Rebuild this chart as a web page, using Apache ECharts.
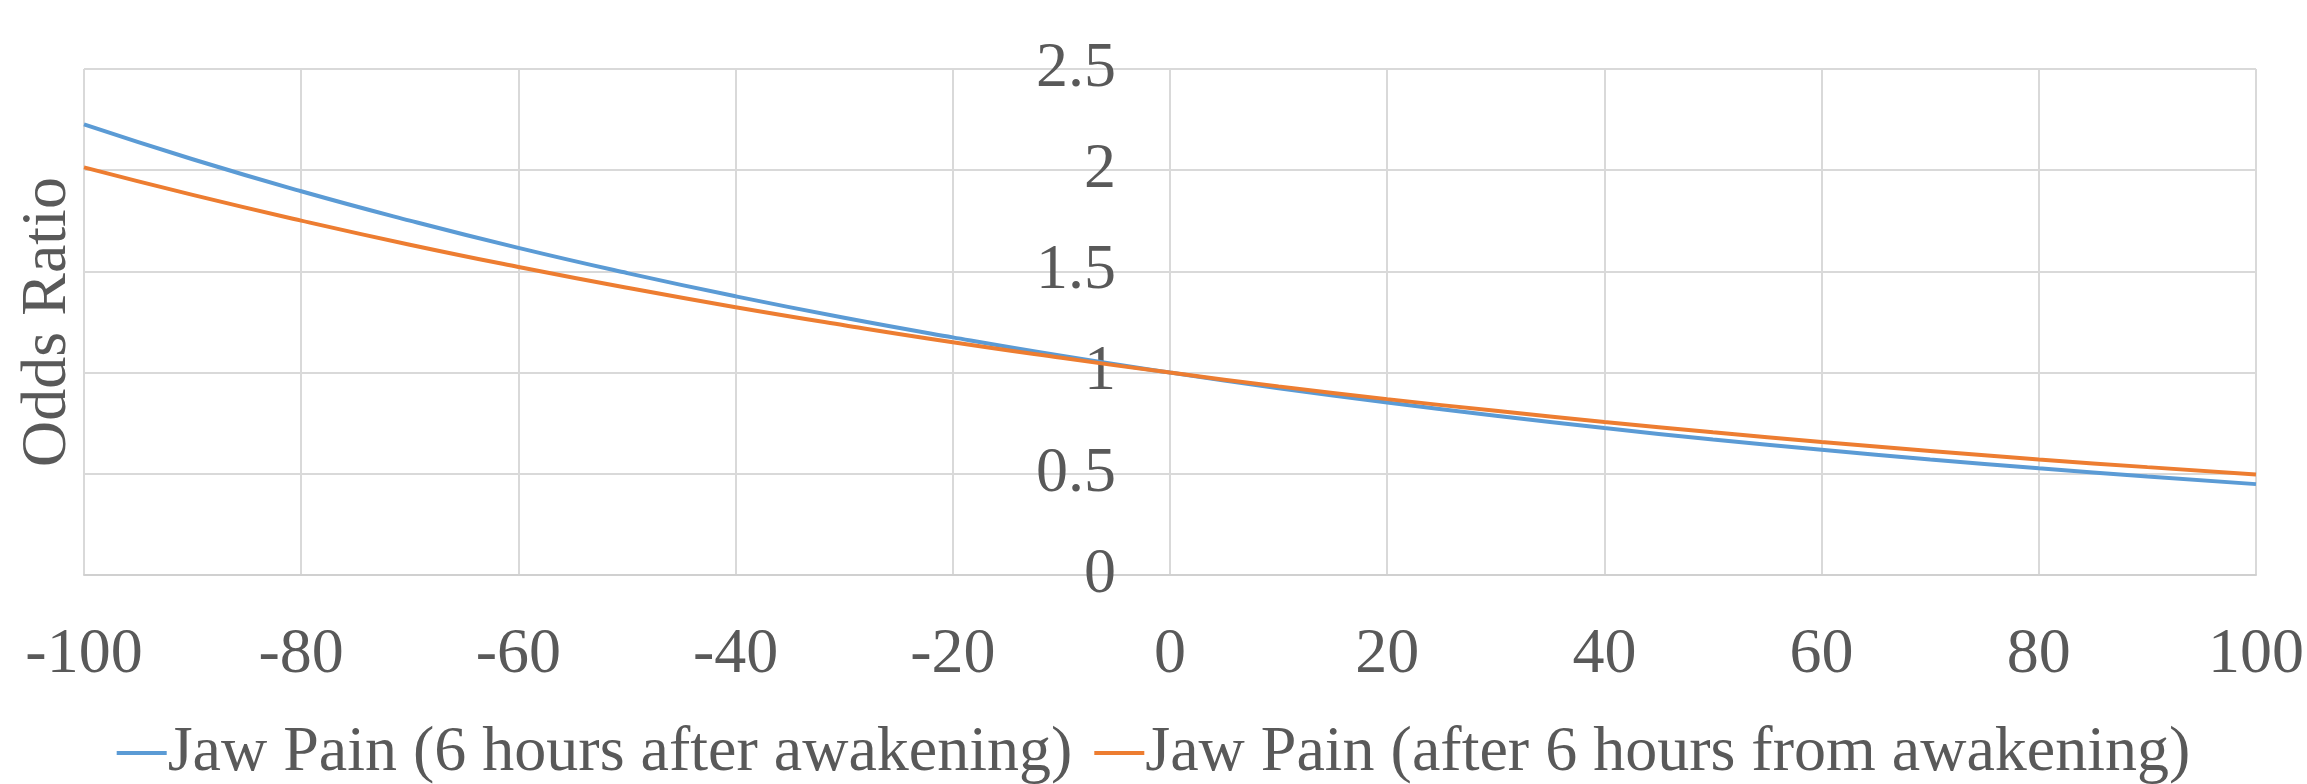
<!DOCTYPE html>
<html>
<head>
<meta charset="utf-8">
<script src="https://cdn.jsdelivr.net/npm/echarts@6/dist/echarts.min.js"></script>
<style>
html,body{margin:0;padding:0;background:#fff;}
#chart{width:2307px;height:784px;}
</style>
</head>
<body>
<div id="chart"></div>
<script>
// Data
const xValues = [-100,-90,-80,-70,-60,-50,-40,-30,-20,-10,0,10,20,30,40,50,60,70,80,90,100];
const jawPain6h = [2.226,2.054,1.896,1.751,1.616,1.492,1.377,1.271,1.174,1.083,1.000,0.923,0.852,0.787,0.726,0.670,0.619,0.571,0.527,0.487,0.449];
const jawPainAfter6h = [2.014,1.878,1.751,1.632,1.522,1.419,1.323,1.234,1.150,1.073,1.000,0.932,0.869,0.811,0.756,0.705,0.657,0.613,0.571,0.533,0.497];
const seriesNames = ['Jaw Pain (6 hours after awakening)','Jaw Pain (after 6 hours from awakening)'];
const yAxisTitle = 'Odds Ratio';

const FONT = "'Liberation Serif','Times New Roman',serif";
const TXT = '#595959';
const GRID = '#D9D9D9';
const FS = 64;

const chart = echarts.init(document.getElementById('chart'), null, {renderer:'canvas'});
const pairs = (xs, ys) => xs.map((x,i)=>[x, ys[i]]);

chart.setOption({
  backgroundColor:'#ffffff',
  animation:false,
  textStyle:{fontFamily:FONT},
  grid:{left:84,right:51,top:69,bottom:209,containLabel:false,outerBoundsMode:'none'},
  legend:{
    bottom:-6,left:'center',
    icon:'rect',itemWidth:50,itemHeight:4,itemGap:22,
    textStyle:{fontFamily:FONT,fontSize:FS,color:TXT,padding:[0,0,0,-4]},
    data:seriesNames
  },
  graphic:[{
    type:'text',x:48,y:322,rotation:Math.PI/2,
    style:{text:yAxisTitle,font:FS+"px 'Liberation Serif','Times New Roman',serif",fill:TXT,
           align:'center',verticalAlign:'middle'}
  }],
  xAxis:{
    type:'value',min:-100,max:100,interval:20,
    axisLine:{show:true,onZero:false,lineStyle:{color:'#D0D0D0',width:2}},
    axisTick:{show:false},
    axisLabel:{fontFamily:FONT,fontSize:FS,color:TXT,margin:48},
    splitLine:{show:true,lineStyle:{color:GRID,width:2}}
  },
  yAxis:{
    type:'value',min:0,max:2.5,interval:0.5,position:'left',offset:-1086,
    axisLine:{show:false,onZero:false},
    axisTick:{show:false},
    axisLabel:{fontFamily:FONT,fontSize:FS,color:TXT,margin:54},
    splitLine:{show:true,lineStyle:{color:GRID,width:2}}
  },
  series:[
    {name:seriesNames[0],type:'line',smooth:true,symbol:'none',
     data:pairs(xValues,jawPain6h),color:'#5B9BD5',
     lineStyle:{color:'#5B9BD5',width:4}},
    {name:seriesNames[1],type:'line',smooth:true,symbol:'none',
     data:pairs(xValues,jawPainAfter6h),color:'#ED7D31',
     lineStyle:{color:'#ED7D31',width:4}}
  ]
});
</script>
</body>
</html>
